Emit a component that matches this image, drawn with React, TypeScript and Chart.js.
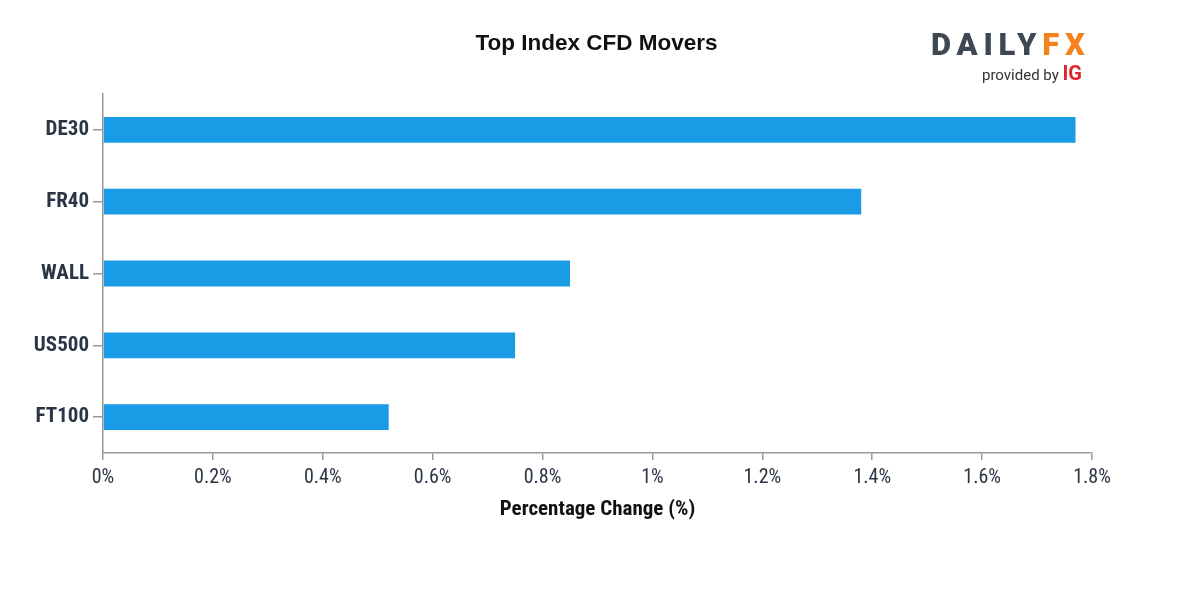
import React, { useEffect, useRef } from "react";
import { Chart, registerables } from "chart.js";

Chart.register(...registerables);

const categories = ["DE30", "FR40", "WALL", "US500", "FT100"];
const values = [1.77, 1.38, 0.85, 0.75, 0.52];
const xTicks = [0, 0.2, 0.4, 0.6, 0.8, 1.0, 1.2, 1.4, 1.6, 1.8];
const titleText = "Top Index CFD Movers";
const xAxisTitle = "Percentage Change (%)";

const condensed = "'Roboto Condensed', 'Liberation Sans Narrow', 'DejaVu Sans Condensed', Roboto, sans-serif";

export default function App() {
  const ref = useRef<HTMLCanvasElement | null>(null);

  useEffect(() => {
    document.body.style.margin = "0";
    const canvas = ref.current;
    if (!canvas) return;
    const chart = new Chart(canvas, {
      type: "bar",
      data: {
        labels: categories,
        datasets: [
          {
            data: values,
            backgroundColor: "#1a9be6",
            borderWidth: 0,
            barPercentage: 0.72,
            categoryPercentage: 0.5,
          },
        ],
      },
      options: {
        indexAxis: "y",
        animation: false,
        responsive: false,
        maintainAspectRatio: false,
        layout: { padding: { top: 94, right: 108, bottom: 78, left: 0 } },
        plugins: {
          legend: { display: false },
          tooltip: { enabled: false },
          title: { display: false },
        },
        scales: {
          x: {
            type: "linear",
            min: 0,
            max: 1.8,
            afterBuildTicks: (s: any) => {
              s.ticks = xTicks.map((v) => ({ value: v }));
            },
            afterFit: (s: any) => {
              s.height = 69;
            },
            ticks: {
              color: "#2b3545",
              font: { family: condensed, size: 20 },
              padding: 6,
              callback: (v: any) => `${+Number(v).toFixed(1)}%`,
              maxRotation: 0,
            },
            grid: {
              display: true,
              drawOnChartArea: false,
              drawTicks: true,
              tickLength: 7,
              color: "#999999",
              lineWidth: 1.5,
            },
            border: { display: true, color: "#999999", width: 1.5 },
            title: {
              display: true,
              text: xAxisTitle,
              color: "#111111",
              font: { family: condensed, size: 21, weight: "bold" },
              padding: { top: 0, bottom: 0 },
            },
          },
          y: {
            afterFit: (s: any) => {
              s.width = 103;
            },
            ticks: {
              color: "#2b3545",
              font: { family: condensed, size: 21, weight: "bold" },
              padding: 4,
            },
            grid: {
              display: true,
              offset: false,
              drawOnChartArea: false,
              drawTicks: true,
              tickLength: 10,
              color: "#999999",
              lineWidth: 1.5,
            },
            border: { display: true, color: "#999999", width: 1.5 },
          },
        },
      },
    });
    return () => chart.destroy();
  }, []);

  return (
    <div style={{ position: "absolute", left: 0, top: 0, width: 1200, height: 600, background: "#fff" }}>
      <canvas ref={ref} width={1200} height={600} style={{ position: "absolute", left: 0, top: 0 }} />
      <div
        style={{
          position: "absolute",
          left: 0,
          width: 1193,
          top: 30,
          textAlign: "center",
          fontFamily: "'Liberation Sans', Arial, sans-serif",
          fontWeight: "bold",
          fontSize: 22.5,
          color: "#111",
        }}
      >
        {titleText}
      </div>
      <div
        style={{
          position: "absolute",
          left: 931,
          top: 27,
          fontFamily: "Roboto, 'Noto Sans', sans-serif",
          fontWeight: 900,
          fontSize: 31,
          letterSpacing: 5.8,
          lineHeight: "36px",
          whiteSpace: "nowrap",
        }}
      >
        <span style={{ color: "#3f4753" }}>DAILY</span>
        <span style={{ color: "#f5821f" }}>FX</span>
      </div>
      <div
        style={{
          position: "absolute",
          left: 982,
          top: 61,
          fontFamily: "Roboto, 'Noto Sans', sans-serif",
          fontSize: 15,
          color: "#333",
          whiteSpace: "nowrap",
        }}
      >
        provided by{" "}
        <span style={{ color: "#e3232c", fontWeight: "bold", fontSize: 20 }}>IG</span>
      </div>
    </div>
  );
}
